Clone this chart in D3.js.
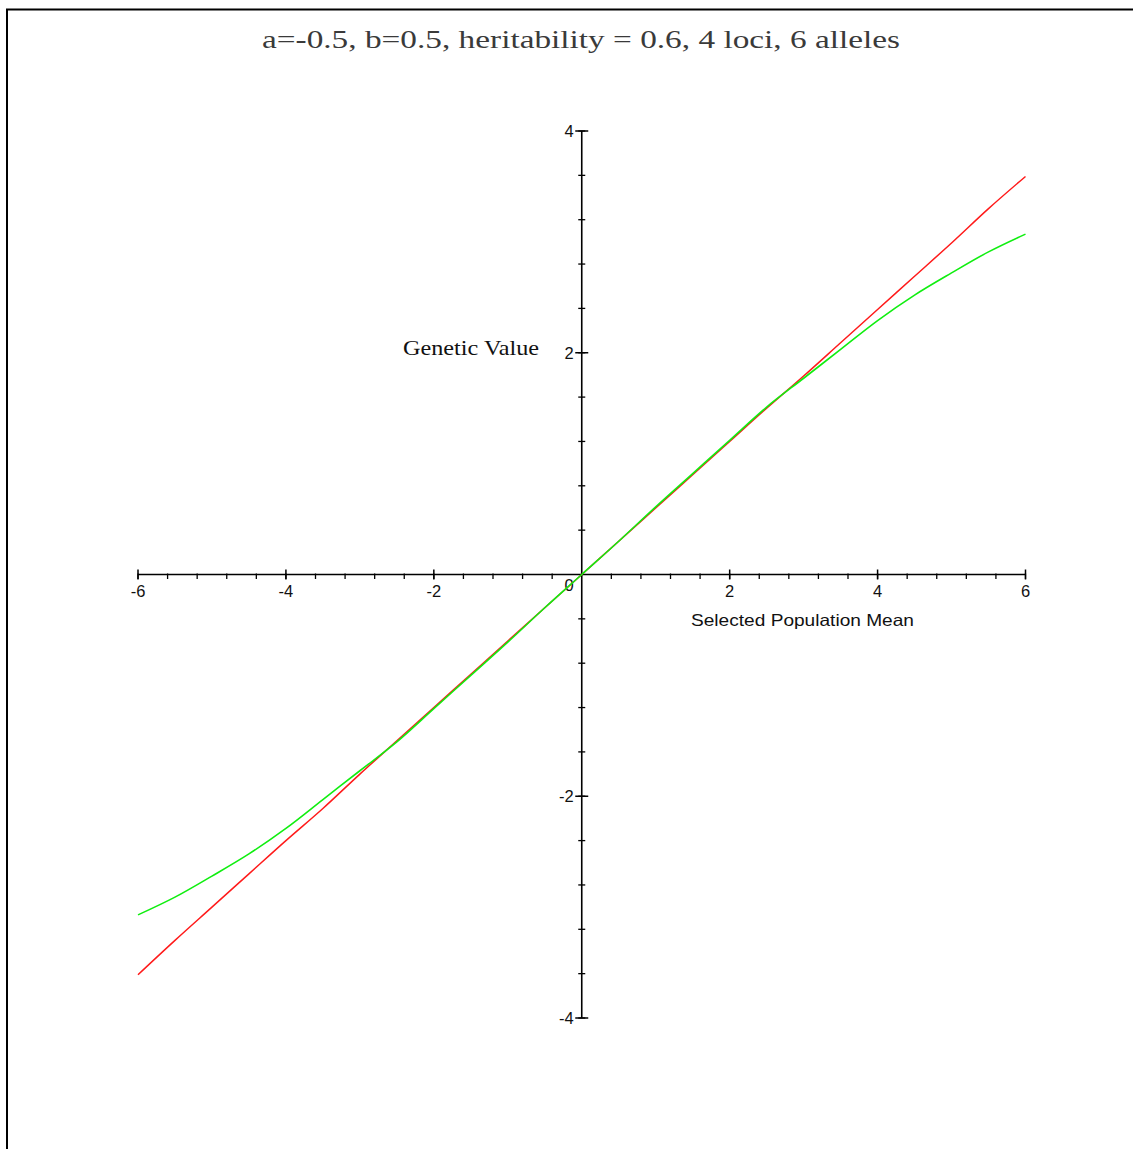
<!DOCTYPE html>
<html>
<head>
<meta charset="utf-8">
<script src="https://cdn.jsdelivr.net/npm/d3@7"></script>
<style>
  html, body { margin: 0; padding: 0; background: #fff; overflow: hidden; }
  svg { display: block; }
</style>
</head>
<body>
<div id="chart"></div>
<script>
// Selected population mean (x) against genetic value (y)
const xValues = [-6, -5.5, -5, -4.5, -4, -3.5, -3, -2.5, -2, -1.5, -1, -0.5, 0,
                 0.5, 1, 1.5, 2, 2.5, 3, 3.5, 4, 4.5, 5, 5.5, 6];
// red curve: nearly straight line
const redValues = [-3.61, -3.30, -3.00, -2.70, -2.40, -2.11, -1.80, -1.50, -1.20, -0.90, -0.60, -0.30, 0,
                   0.30, 0.60, 0.90, 1.20, 1.50, 1.79, 2.09, 2.39, 2.69, 2.99, 3.30, 3.59];
// green curve: bends away from the line at the extremes
const greenValues = [-3.07, -2.91, -2.72, -2.52, -2.29, -2.03, -1.77, -1.51, -1.21, -0.91, -0.61, -0.30, 0,
                     0.30, 0.61, 0.91, 1.21, 1.51, 1.77, 2.03, 2.29, 2.52, 2.72, 2.91, 3.07];

const xMajorTicks = [-6, -4, -2, 2, 4, 6];
const yMajorTicks = [-4, -2, 2, 4];
const xTickLabels = ["-6", "-4", "-2", "2", "4", "6"];
const yTickLabels = ["-4", "-2", "2", "4"];
const minorStep = 0.4;

const titleText = "a=-0.5, b=0.5, heritability = 0.6, 4 loci, 6 alleles";
const xTitle = "Selected Population Mean";
const yTitle = "Genetic Value";

const W = 1133, H = 1149;
const svg = d3.select("#chart").append("svg")
  .attr("width", W).attr("height", H);

// outer frame (right and bottom edges fall outside the view)
svg.append("rect")
  .attr("x", 7).attr("y", 9.5)
  .attr("width", W + 20).attr("height", H + 20)
  .attr("fill", "none").attr("stroke", "#000").attr("stroke-width", 2);

const x = d3.scaleLinear().domain([-6, 6]).range([138, 1025.5]);
const y = d3.scaleLinear().domain([-4, 4]).range([1018, 131]);

const axisColor = "#000";
const g = svg.append("g");

// axis lines through the origin
g.append("line")
  .attr("x1", x(-6)).attr("x2", x(6))
  .attr("y1", y(0)).attr("y2", y(0))
  .attr("stroke", axisColor).attr("stroke-width", 1.6);
g.append("line")
  .attr("x1", x(0)).attr("x2", x(0))
  .attr("y1", y(4)).attr("y2", y(-4))
  .attr("stroke", axisColor).attr("stroke-width", 1.6);

// minor ticks every 0.4 units
const xMinor = d3.range(-6, 6.0001, minorStep).filter(v => Math.abs(v) > 1e-6);
g.selectAll(".xminor").data(xMinor).join("line")
  .attr("x1", d => x(d)).attr("x2", d => x(d))
  .attr("y1", y(0) - 1).attr("y2", y(0) + 4.5)
  .attr("stroke", axisColor).attr("stroke-width", 1.3);
const yMinor = d3.range(-4, 4.0001, minorStep).filter(v => Math.abs(v) > 1e-6);
g.selectAll(".yminor").data(yMinor).join("line")
  .attr("x1", x(0) - 3.5).attr("x2", x(0) + 3.5)
  .attr("y1", d => y(d)).attr("y2", d => y(d))
  .attr("stroke", axisColor).attr("stroke-width", 1.3);

// major ticks
g.selectAll(".xmajor").data(xMajorTicks).join("line")
  .attr("x1", d => x(d)).attr("x2", d => x(d))
  .attr("y1", y(0) - 5).attr("y2", y(0) + 5)
  .attr("stroke", axisColor).attr("stroke-width", 1.5);
g.selectAll(".ymajor").data(yMajorTicks).join("line")
  .attr("x1", x(0) - 6.5).attr("x2", x(0) + 6.5)
  .attr("y1", d => y(d)).attr("y2", d => y(d))
  .attr("stroke", axisColor).attr("stroke-width", 1.5);

const sans = "'Liberation Sans', Arial, sans-serif";
const serif = "'Liberation Serif', 'Times New Roman', serif";

// tick labels
g.selectAll(".xlab").data(xMajorTicks).join("text")
  .attr("x", d => x(d)).attr("y", y(0) + 22)
  .attr("text-anchor", "middle")
  .attr("font-family", sans).attr("font-size", 16.5).attr("fill", "#111")
  .text((d, i) => xTickLabels[i]);
g.selectAll(".ylab").data(yMajorTicks).join("text")
  .attr("x", x(0) - 8).attr("y", d => y(d) + 6)
  .attr("text-anchor", "end")
  .attr("font-family", sans).attr("font-size", 16.5).attr("fill", "#111")
  .text((d, i) => yTickLabels[i]);
g.append("text")
  .attr("x", x(0) - 8).attr("y", y(0) + 16)
  .attr("text-anchor", "end")
  .attr("font-family", sans).attr("font-size", 16.5).attr("fill", "#111")
  .text("0");

// axis titles
g.append("text")
  .attr("x", 691).attr("y", 626)
  .attr("font-family", sans).attr("font-size", 16.5).attr("fill", "#111")
  .attr("textLength", 223).attr("lengthAdjust", "spacingAndGlyphs")
  .text(xTitle);
g.append("text")
  .attr("x", 403).attr("y", 355)
  .attr("font-family", serif).attr("font-size", 21).attr("fill", "#111")
  .attr("textLength", 136).attr("lengthAdjust", "spacingAndGlyphs")
  .text(yTitle);

// title
svg.append("text")
  .attr("x", 262).attr("y", 48)
  .attr("font-family", serif).attr("font-size", 26).attr("fill", "#3a3a3a")
  .attr("textLength", 638).attr("lengthAdjust", "spacingAndGlyphs")
  .text(titleText);

// curves
const line = d3.line().curve(d3.curveCatmullRom.alpha(0.5));
const redPts = xValues.map((v, i) => [x(v), y(redValues[i])]);
const greenPts = xValues.map((v, i) => [x(v), y(greenValues[i])]);

svg.append("path")
  .attr("d", line(redPts))
  .attr("fill", "none").attr("stroke", "#ff1a1a").attr("stroke-width", 1.5);
svg.append("path")
  .attr("d", line(greenPts))
  .attr("fill", "none").attr("stroke", "#10ee10").attr("stroke-width", 1.6);
</script>
</body>
</html>
